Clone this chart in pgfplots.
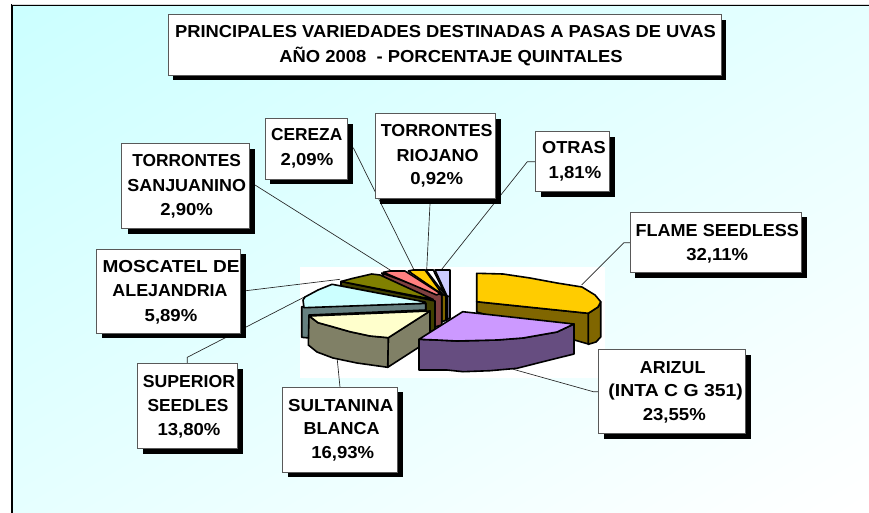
\documentclass[border=0pt]{standalone}
\usepackage{pgfplots}
\pgfplotsset{compat=1.18}
\usepackage{fontspec}
\setmainfont{Liberation Sans}
\definecolor{cYel}{HTML}{FFCC00}\definecolor{cYelS}{HTML}{806600}
\definecolor{cPur}{HTML}{CC99FF}\definecolor{cPurS}{HTML}{664D80}
\definecolor{cCre}{HTML}{FFFFCC}\definecolor{cCreS}{HTML}{808066}
\definecolor{cCya}{HTML}{CCFFFF}\definecolor{cCyaS}{HTML}{668080}
\definecolor{cOli}{HTML}{808000}\definecolor{cOliS}{HTML}{404000}
\definecolor{cSal}{HTML}{FF8080}\definecolor{cSalS}{HTML}{804040}
\definecolor{cOtr}{HTML}{CCCCFF}\definecolor{cOtrS}{HTML}{666680}
\newcommand\lblfont{\fontsize{13}{15}\selectfont\bfseries}
\newcommand\bx[6]{%
  \fill[black] (axis cs:#1+#5,#2+#6) rectangle (axis cs:#3+#5,#4+#6);
  \filldraw[fill=white,draw=black!65,line width=0.75pt] (axis cs:#1,#2) rectangle (axis cs:#3,#4);}
\newcommand\lbl[4][1]{\node[anchor=base,inner sep=0pt,font=\lblfont,text=black] at (axis cs:#2,#3+6) {\scalebox{#1}[1]{#4}};}
\tikzset{wedge/.style={draw=black,line width=1.2pt,line join=round},
         lead/.style={draw=black!85,line width=0.5pt}}
\begin{document}
\begin{tikzpicture}[x=0.75pt,y=-0.75pt]
\useasboundingbox (0,0) rectangle (869,513);
\fill[white] (0,0) rectangle (869,513);
\foreach \i in {0,...,51}{%
  \pgfmathsetmacro\s{2*\i/52}%
  \pgfmathtruncatemacro\rr{204+\i}%
  \definecolor{bandc}{RGB}{\rr,255,255}%
  \pgfmathparse{\s<=1?1:0}%
  \ifnum\pgfmathresult=1
    \fill[bandc] ({12+\s*857},5) -- (869,5) -- (869,513) -- (12,513) -- (12,{5+\s*508}) -- cycle;
  \else
    \fill[bandc] (869,{5+(\s-1)*508}) -- (869,513) -- ({12+(\s-1)*857},513) -- cycle;
  \fi
}
\draw[black,line width=0.9pt] (12,513) -- (12,5) -- (869,5);
\draw[black!15,line width=0.6pt] (12,4) -- (869,4);
\begin{axis}[at={(0,-384.75pt)},anchor=south west,scale only axis,width=651.75pt,height=384.75pt,
  xmin=0,xmax=869,ymin=0,ymax=513,y dir=reverse,axis lines=none,clip=false]
% white plot area behind the pie
\addplot[fill=white,draw=none] coordinates {(300,267)(605,267)(605,378)(300,378)} --cycle;
% leader lines
\addplot[lead] coordinates {(630.3,242.7)(624,242.7)(581.7,285)};
\addplot[lead] coordinates {(598.3,391.7)(593.3,391.7)(513.3,369.3)};
\addplot[lead] coordinates {(340,387.3)(337.3,360)};
\addplot[lead] coordinates {(187.3,363.7)(187.3,357.3)(305,296.7)};
\addplot[lead] coordinates {(246,290.7)(340,279.3)};
\addplot[lead] coordinates {(255,185)(391.7,271)};
\addplot[lead] coordinates {(353.3,147.7)(414,270)};
\addplot[lead] coordinates {(430,204)(426.7,270)};
\addplot[lead] coordinates {(535.7,161.7)(527.3,161.7)(441.7,269.3)};
% Flame seedless
\addplot[wedge,fill=cYelS] coordinates {(476.7,301.7)(588.3,313.3)(588.3,344)(476.7,312)} --cycle;
\addplot[wedge,fill=cYelS] coordinates {(588.3,313.3)(598,307)(600.7,301.7)(600.7,337)(596,342)(588.3,344.3)} --cycle;
\addplot[wedge,fill=cYel] coordinates {(476.7,273.3)(503,274)(530,278)(557,283)(582,287)(595,295)(600.7,301.7)(598,307)(588.3,313.3)(476.7,301.7)} --cycle;
% Otras, sides then tops
\addplot[wedge,fill=cOtrS] coordinates {(445,295)(450,296)(450,318)(446,320)} --cycle;
\addplot[wedge,fill=cOtr] coordinates {(435,270)(450,270)(450,296.7)(447,296)} --cycle;
% Torrontes riojano
\addplot[wedge,fill=black!50] coordinates {(443,295)(447,296)(447,320)(443,321)} --cycle;
\addplot[wedge,fill=white] coordinates {(426,270)(433.3,270)(446,296)} --cycle;
% Cereza
\addplot[wedge,fill=cYelS] coordinates {(441.7,294)(446,296)(446,320)(441.7,322)} --cycle;
\addplot[wedge,fill=cYel] coordinates {(408.3,271)(413.3,270)(425,270)(443,295)} --cycle;
% Torrontes sanjuanino
\addplot[wedge,fill=cSalS] coordinates {(381.7,273)(384,277)(434,301)(434.7,327)(441.7,325)(441.7,295)} --cycle;
\addplot[wedge,fill=cSal] coordinates {(383.3,272.3)(390,271)(405,271)(440,293.3)(436.7,295)} --cycle;
% Moscatel
\addplot[wedge,fill=cOliS] coordinates {(341,281.5)(341,286)(425.7,303.5)(425.7,334)(435,330)(435,301)} --cycle;
\addplot[wedge,fill=cOli] coordinates {(341,281.5)(353,278.3)(371.7,274)(380,275)(433.3,299.5)} --cycle;
% Superior
\addplot[wedge,fill=cCyaS] coordinates {(301.7,306.7)(301.7,337.3)(309,338)(309,315)(425.7,310)(425.7,303.3)} --cycle;
\addplot[wedge,fill=cCya] coordinates {(303,300)(305,297)(318,290)(332,284.3)(425,302)(425.7,303.3)(304,307.7)} --cycle;
% Sultanina
\addplot[wedge,fill=cCreS] coordinates {(388.3,337.7)(387.7,367.3)(430,340)(430,311)} --cycle;
\addplot[wedge,fill=cCreS] coordinates {(309,316)(308.3,345)(317,352)(333,358)(357,363)(387.7,367.3)(388.3,337.7)(370,336)(350,331.7)(330,326)(318,322.7)} --cycle;
\addplot[wedge,fill=cCre] coordinates {(309.3,316)(430,311)(388.3,337.7)(370,336)(350,331.7)(330,326)(318,322.7)} --cycle;
% Arizul
\addplot[wedge,fill=cPurS] coordinates {(419,339.3)(419,370)(447,370)(463,371.7)(490,370.7)(517,368.3)(543,361.7)(574,354)(574,324)(557,332)(523,338)(497,340)(457,341)(437,340)} --cycle;
\addplot[wedge,fill=cPur] coordinates {(462.7,311.7)(574,324)(557,332)(523,338)(497,340)(457,341)(437,340)(419,339.3)} --cycle;
% boxes
\bx{168.3}{14.7}{721}{75}{4.5}{5}
\bx{121.7}{143.3}{249}{228.3}{6}{5.7}
\bx{265}{118.3}{347.3}{179}{5.4}{5.3}
\bx{375}{113.7}{495.7}{198.3}{5.3}{5.4}
\bx{535.7}{131.7}{609.3}{191.7}{5.7}{5.6}
\bx{630.3}{212.3}{801.7}{272.7}{5}{5}
\bx{598.3}{349.3}{745.3}{433.7}{5.4}{5.3}
\bx{282.7}{387.3}{397.7}{472.3}{5.3}{5}
\bx{96.7}{249.3}{240.7}{333.3}{5.3}{4.7}
\bx{137.3}{363.7}{237}{448.3}{5.7}{5.4}
% texts
\lbl[1.058]{445.5}{31}{PRINCIPALES VARIEDADES DESTINADAS A PASAS DE UVAS}
\lbl[1.063]{451}{56}{AÑO 2008~ - PORCENTAJE QUINTALES}
\lbl{186.7}{160}{TORRONTES}\lbl[1.035]{186.7}{185}{SANJUANINO}\lbl[1.07]{186.7}{209.3}{2,90\%}
\lbl{306.7}{134.3}{CEREZA}\lbl[1.07]{307}{159.3}{2,09\%}
\lbl[1.03]{436.7}{130.7}{TORRONTES}\lbl[1.04]{437.7}{155}{RIOJANO}\lbl[1.07]{436.7}{178.3}{0,92\%}
\lbl[1.05]{574}{147.7}{OTRAS}\lbl[1.07]{575}{172.7}{1,81\%}
\lbl[1.04]{717.3}{230}{FLAME SEEDLESS}\lbl[1.07]{717.3}{254}{32,11\%}
\lbl[1.03]{672.7}{367.3}{ARIZUL}\lbl[1.12]{675.7}{390.7}{(INTA C G 351)}\lbl[1.07]{674.3}{414.7}{23,55\%}
\lbl[1.08]{340.7}{405}{SULTANINA}\lbl[1.04]{341.7}{428.3}{BLANCA}\lbl[1.07]{342.7}{452.7}{16,93\%}
\lbl[1.097]{171}{266}{MOSCATEL DE}\lbl[1.03]{170}{290}{ALEJANDRIA}\lbl[1.07]{171}{315}{5,89\%}
\lbl[1.02]{189}{381}{SUPERIOR}\lbl{188}{405}{SEEDLES}\lbl[1.07]{189}{429.3}{13,80\%}
\end{axis}
\end{tikzpicture}
\end{document}
